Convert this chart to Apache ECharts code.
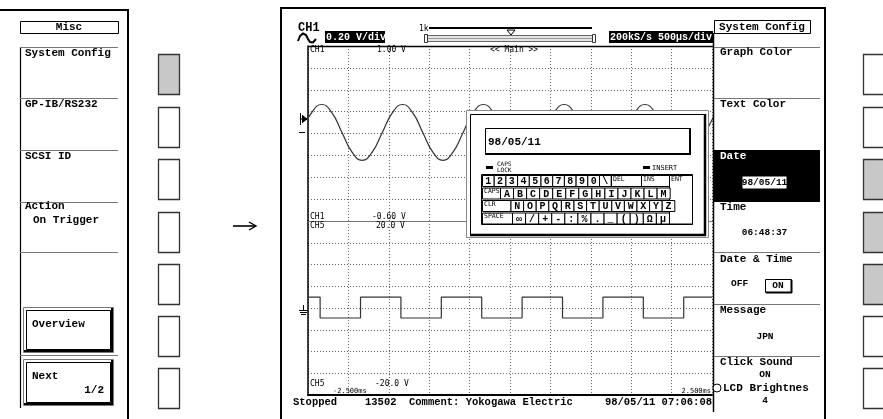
<!DOCTYPE html>
<html><head><meta charset="utf-8">
<script src="https://cdn.jsdelivr.net/npm/echarts@6/dist/echarts.min.js"></script>
<style>html,body{margin:0;padding:0;background:#fff}#c{width:883px;height:419px}</style>
</head><body><div id="c"></div>
<script>
// ---------- data ----------
// CH1 sine (time in ms, volts)
const sineTime = [-2.58,-2.455,-2.33,-2.205,-2.08,-1.955,-1.83,-1.705,-1.58,-1.455,-1.33,-1.205,-1.08,-0.955,-0.83,-0.705,-0.58,-0.455,-0.33,-0.205,-0.08,0.045,0.17,0.295,0.42,0.545,0.67,0.795,0.92,1.045,1.17,1.295,1.42,1.545,1.67,1.795,1.92,2.045,2.17,2.295,2.42,2.545];
const sineVolt = [0.21,0.39,0.465,0.39,0.21,0.03,-0.045,0.03,0.21,0.39,0.465,0.39,0.21,0.03,-0.045,0.03,0.21,0.39,0.465,0.39,0.21,0.03,-0.045,0.03,0.21,0.39,0.465,0.39,0.21,0.03,-0.045,0.03,0.21,0.39,0.465,0.39,0.21,0.03,-0.045,0.03,0.21,0.39];
// CH5 square (edge times in ms, level after edge in volts)
const squareTime = [-2.5,-2.35,-1.85,-1.35,-0.85,-0.35,0.15,0.65,1.15,1.65,2.15,2.5];
const squareVolt = [2.5,-2.3,2.5,-2.3,2.5,-2.3,2.5,-2.3,2.5,-2.3,2.5,2.5];
// axis ranges
const timeRange = [-2.5, 2.5, 0.5];
const ch1Range = [-0.6, 1.0, 0.2];
const ch5Range = [-20, 20, 5];
// texts
const leftMenu = ['System Config','GP-IB/RS232','SCSI ID','Action'];
const kbRow1 = ['1','2','3','4','5','6','7','8','9','0','\\'];
const kbRow2 = ['A','B','C','D','E','F','G','H','I','J','K','L','M'];
const kbRow3 = ['N','O','P','Q','R','S','T','U','V','W','X','Y','Z'];
const kbRow4 = ['∞','/','+','-',':','%','.','_','(',')','Ω','µ'];
const bottomTexts = ['Stopped','13502','Comment: Yokogawa Electric','98/05/11 07:06:08'];

// ---------- graphics helpers ----------
const G = [];
const MONO = '"Liberation Mono","DejaVu Sans Mono",monospace';
const SMALL = '"DejaVu Sans Mono",monospace';
function R(x,y,w,h,fill,stroke,lw,z){G.push({type:'rect',silent:true,z:z||10,shape:{x:x,y:y,width:w,height:h},style:{fill:fill||'none',stroke:stroke||null,lineWidth:lw||1}});}
function L(x1,y1,x2,y2,stroke,lw,z){G.push({type:'line',silent:true,z:z||10,shape:{x1:x1,y1:y1,x2:x2,y2:y2},style:{stroke:stroke||'#000',lineWidth:lw||1}});}
function T(x,y,s,o){o=o||{};G.push({type:'text',silent:true,z:o.z||20,style:{text:s,x:x,y:y,fill:o.fill||'#000',font:(o.bold===false?'':'bold ')+(o.size||11)+'px '+(o.family||MONO),textAlign:o.align||'left',textVerticalAlign:'middle'}});}
function P(pts,fill,stroke,lw,z,closed){G.push({type:closed?'polygon':'polyline',silent:true,z:z||10,shape:{points:pts},style:{fill:fill||'none',stroke:stroke||'#000',lineWidth:lw||1}});}
function bevel(x,y,w,h,z){R(x+0.5,y+0.5,w,h,'#fff','#777',1,z);R(x+3.5,y+3.5,w-6,h-6,'none','#000',1,z);L(x+w-1,y+1,x+w-1,y+h,'#000',2,z);L(x+1,y+h-1,x+w,y+h-1,'#000',2,z);}

// ---------- left panel ----------
L(0,10,129,10,'#000',2); L(128,10,128,419,'#000',2);
L(20.5,47,20.5,408,'#000',1.2);
R(20.5,21.5,98,12,'#fff','#000',1);
T(69,27.5,'Misc',{align:'center'});
[47,98,150,202,252,355].forEach(function(y){L(20,y+0.5,118,y+0.5,'#777',1);});
leftMenu.forEach(function(s,i){T(25,[53,104,156,206.5][i],s);});
T(33,220,'On Trigger');
bevel(23,307,90,45); T(32,324,'Overview');
bevel(23,359,90,46); T(32,376,'Next'); T(104,390,'1/2',{align:'right'});

// left soft keys
[54,107,159,212,264,316,368].forEach(function(y,i){R(158.5,y+0.5,21,40,i===0?'#c8c8c8':'#fff','#333',1.3);});
// arrow
L(233,226,255,226,'#000',1.6); P([[249,222],[256,226],[249,230]],'none','#000',1.4);

// ---------- main screen frame ----------
L(280,8,826,8,'#000',2); L(281,8,281,419,'#000',2); L(825,8,825,419,'#000',2);
// top bar
T(298,27.5,'CH1',{size:12});
P([[298,41],[300,36],[303,33.5],[306,35],[308,39],[310,42],[313,42.5],[316,39]],'none','#000',2);
R(325,31,60,12,'#000',null,1); T(326,37.5,'0.20 V/div',{size:10,fill:'#fff'});
T(419,29,'1k',{size:8,bold:false,family:SMALL});
L(429,28,592,28,'#000',2);
R(427.5,35.5,166,6,'#e6e6e6','#666',1); L(428,38.5,593,38.5,'#999',1);
R(424.5,34.5,3,8,'#fff','#333',1); R(592.5,34.5,3,8,'#fff','#333',1);
P([[507,30],[515,30],[511,35]],'#fff','#000',1,12,true);
R(609,31,104,12,'#000',null,1); T(610,37.5,'200kS/s 500µs/div',{size:10,fill:'#fff'});
// grid border lines
L(308,46.5,713,46.5,'#000',1.5);
// right menu column border
L(713.5,33,713.5,412,'#000',1.5);
// grid labels
function S(x,y,s,a){T(x,y,s,{size:8,bold:false,family:SMALL,align:a||'left'});}
S(310,50,'CH1'); S(377,50,'1.00 V'); S(490,50,'<< Main >>');
S(310,217,'CH1'); S(372,217,'-0.60 V'); S(310,226,'CH5'); S(376,226,'20.0 V');
S(310,384,'CH5'); S(375,384,'-20.0 V');
T(333,391.5,'-2.500ms',{size:7,bold:false,family:SMALL}); T(711,391.5,'2.500ms',{size:7,bold:false,family:SMALL,align:'right'});
// ground markers
L(300.5,113,300.5,125,'#000',1); L(302.5,115,302.5,123,'#000',1); L(300,119,307,119,'#000',1);
P([[303,116],[307,119],[303,122]],'#000','#000',1,12,true); L(299,132.5,305,132.5,'#000',1);
L(303.5,305,303.5,310,'#000',1); L(299,310.5,308,310.5,'#000',1); L(300,312.5,307,312.5,'#000',1); L(301,314.5,306,314.5,'#000',1);
// bottom bar
T(293,402,bottomTexts[0],{size:10.5}); T(365,402,bottomTexts[1],{size:10.5});
T(409,402,bottomTexts[2],{size:10.5}); T(712,402,bottomTexts[3],{size:10.5,align:'right'});

// ---------- right menu ----------
R(714.5,20.5,96,13,'#fff','#000',1); T(762,27.5,'System Config',{align:'center'});
[47,98,252,304,356].forEach(function(y){L(714,y+0.5,820,y+0.5,'#777',1);});
T(720,52.5,'Graph Color'); T(720,104,'Text Color');
R(714,150,106,52,'#000',null,1);
T(720,156,'Date',{fill:'#fff'});
R(742.5,176.5,44,12,'#fff',null,1); T(764.5,183,'98/05/11',{size:9.5,align:'center'});
T(720,207.5,'Time'); T(764.5,233,'06:48:37',{size:9.5,align:'center'});
T(720,259,'Date & Time'); T(731,284,'OFF',{size:9.5});
R(765.5,279.5,26,13,'#fff','#000',1); L(791.5,280,791.5,293,'#000',2); L(766,292.5,792,292.5,'#000',2); T(778,285.5,'ON',{size:9.5,align:'center'});
T(720,310.5,'Message'); T(765,336.5,'JPN',{size:9.5,align:'center'});
T(720,362,'Click Sound'); T(765,375,'ON',{size:9.5,align:'center'});
G.push({type:'circle',silent:true,z:21,shape:{cx:717,cy:388,r:4},style:{fill:'#fff',stroke:'#000',lineWidth:1}});
T(723,388,'LCD Brightnes'); T(765,401,'4',{size:9.5,align:'center'});
// right soft keys
[54,107,159,212,264,316,368].forEach(function(y,i){R(863.5,y+0.5,22,40,(i>=2&&i<=4)?'#c8c8c8':'#fff','#333',1.3);});

// ---------- dialog ----------
const D = 100;
R(466.5,110.5,242,127,'#fff','#888',1,D);
R(470.5,114.5,234,120,'none','#000',1,D+1);
L(705,114,705,236,'#000',2.5,D+1); L(470,235,706,235,'#000',2.5,D+1);
R(485.5,128.5,205,26,'#fff','#000',1,D+1); L(690,128,690,155,'#000',2,D+1); L(485,154,691,154,'#000',2,D+1);
T(488,142,'98/05/11',{size:11,z:D+3});
R(486,166,7,3,'#000',null,1,D+1);
T(497,164,'CAPS',{size:6,bold:false,family:SMALL,z:D+3}); T(497,170,'LOCK',{size:6,bold:false,family:SMALL,z:D+3});
R(643,166,7,3,'#000',null,1,D+1); T(652,168,'INSERT',{size:7,bold:false,family:SMALL,z:D+3});
R(481.5,174.5,211,50,'none','#000',1,D+1);
function key(x,y,w,h,label,small){R(x+0.5,y+0.5,w,h,'#fff','#000',1,D+2);
  if(small){T(x+2,y+4,label,{size:6.5,bold:false,family:SMALL,z:D+3});}
  else{T(x+w/2+0.5,y+h/2+1,label,{size:10,align:'center',z:D+3});}}
const rowY = [175,187.5,200,212.5], KH = 11;
kbRow1.forEach(function(k,i){key(482+i*11.7,rowY[0],11.7,KH,k);});
key(611,rowY[0],30,KH,'DEL',true); key(641,rowY[0],28,KH,'INS',true);
key(669,rowY[0],23,48.5,'ENT',true);
key(482,rowY[1],18,KH,'CAPS',true);
kbRow2.forEach(function(k,i){key(500+i*13.05,rowY[1],13.05,KH,k);});
key(482,rowY[2],28.5,KH,'CLR',true);
kbRow3.forEach(function(k,i){key(510.5+i*12.6,rowY[2],12.6,KH,k);});
key(482,rowY[3],30,KH,'SPACE',true);
kbRow4.forEach(function(k,i){key(512+i*13.08,rowY[3],13.08,KH,k);});

// ---------- chart ----------
function xAx(gi,lineColor,lw){return {gridIndex:gi,type:'value',min:timeRange[0],max:timeRange[1],interval:timeRange[2],
  axisLabel:{show:false},axisTick:{show:false},axisLine:{show:true,onZero:false,lineStyle:{color:lineColor,width:lw}},
  splitLine:{show:true,lineStyle:{color:'#666',width:1,type:[1,2]}}};}
function yAx(gi,r){return {gridIndex:gi,type:'value',min:r[0],max:r[1],interval:r[2],
  axisLabel:{show:false},axisTick:{show:false},axisLine:{show:true,onZero:false,lineStyle:{color:'#000',width:1.5}},
  splitLine:{show:true,lineStyle:{color:'#666',width:1,type:[1,2]}}};}
const chart = echarts.init(document.getElementById('c'),null,{renderer:'canvas'});
chart.setOption({
  animation:false,
  backgroundColor:'#fff',
  grid:[{left:308,top:46,width:404,height:175},{left:308,top:221,width:404,height:174}],
  xAxis:[xAx(0,'#777',1),xAx(1,'#000',2)],
  yAxis:[yAx(0,ch1Range),yAx(1,ch5Range)],
  series:[
    {type:'line',xAxisIndex:0,yAxisIndex:0,smooth:0.5,showSymbol:false,silent:true,
     data:sineTime.map(function(t,i){return [t,sineVolt[i]];}),lineStyle:{color:'#333',width:1.2}},
    {type:'line',xAxisIndex:1,yAxisIndex:1,step:'end',showSymbol:false,silent:true,
     data:squareTime.map(function(t,i){return [t,squareVolt[i]];}),lineStyle:{color:'#333',width:1.2}}
  ],
  graphic:{elements:G}
});
</script></body></html>
